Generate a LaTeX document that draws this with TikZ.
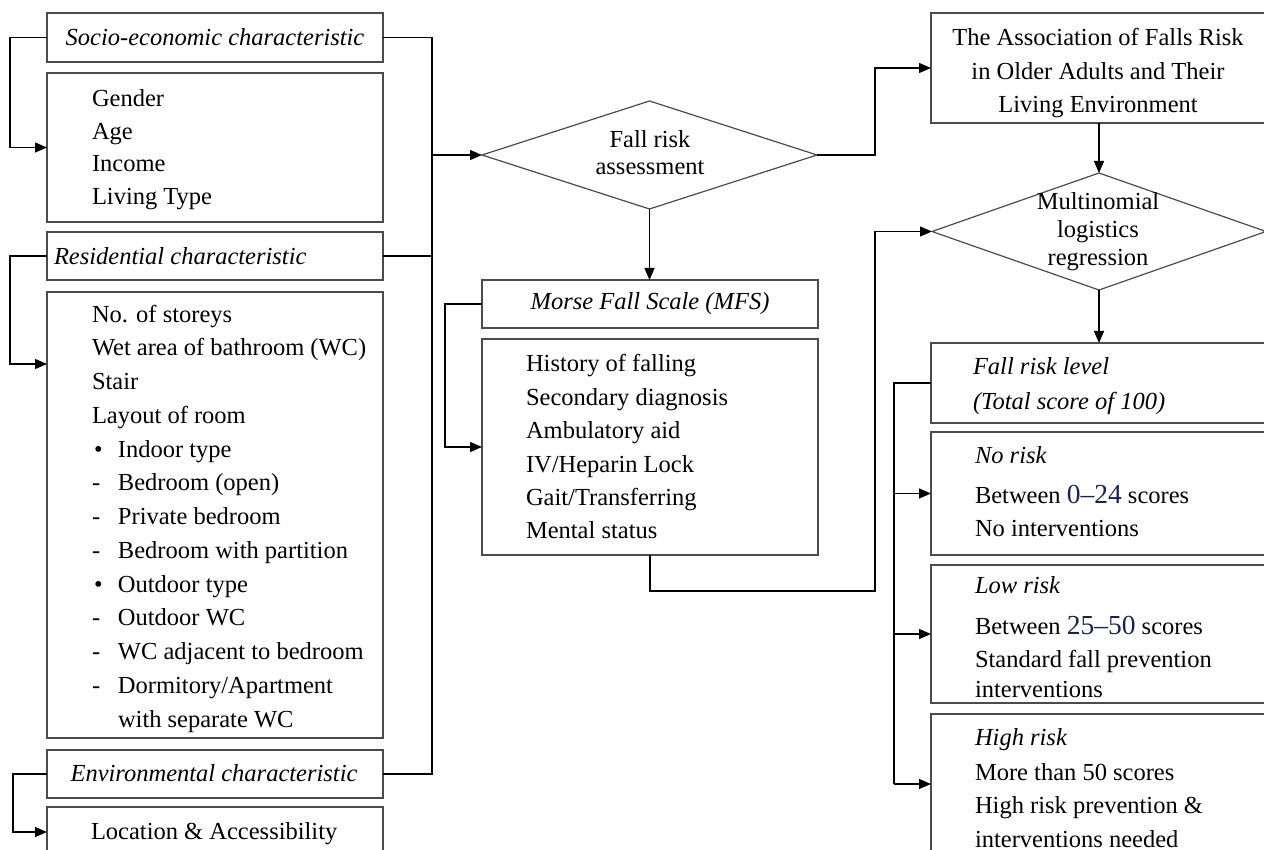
\documentclass[tikz,border=0pt]{standalone}
\usepackage{fontspec}
\setmainfont{Liberation Serif}
\usetikzlibrary{arrows.meta,shapes.geometric,calc}
\definecolor{numc}{RGB}{25,35,80}
\definecolor{boxc}{RGB}{75,75,75}
\newcommand\fsz[1]{\fontsize{24.5}{#1}\selectfont}
\newcommand\nm[1]{{\fontsize{27.5}{27.5}\selectfont\color{numc}#1}}
\newcommand\bl[1]{\makebox[26pt][l]{\hspace{2pt}\textbullet}#1}
\newcommand\ds[1]{\makebox[26pt][l]{-}#1}
\tikzset{
 box/.style={draw=boxc, line width=1.2pt, rectangle, anchor=north west, inner sep=0pt, outer sep=0pt},
 dia/.style={draw=boxc, line width=1.2pt, diamond, inner sep=0pt, outer sep=0pt},
 ln/.style={draw=black, line width=1.3pt},
 thk/.style={draw=black, line width=2pt},
 arr/.style={ln, -{Triangle[length=12pt,width=10pt]}},
 txt/.style={inner sep=0pt, outer sep=0pt, font=\fsz{33.5}},
 lst/.style={txt, anchor=north west, align=left},
}
\begin{document}
\begin{tikzpicture}[x=1pt,y=-1pt]
\useasboundingbox (0,0) rectangle (1264,850);
\clip (0,0) rectangle (1264,850);
% left column boxes
\node[box, minimum width=336pt, minimum height=49pt] (sh) at (47,13) {};
\node[box, minimum width=336pt, minimum height=149pt] (gb) at (47,73) {};
\node[box, minimum width=336pt, minimum height=48pt] (rh) at (47,232) {};
\node[box, minimum width=336pt, minimum height=446pt] (rl) at (47,292) {};
\node[box, minimum width=336pt, minimum height=48pt] (eh) at (47,750) {};
\node[box, minimum width=336pt, minimum height=60pt] (lb) at (47,807) {};
% middle
\node[dia, minimum width=335pt, minimum height=108pt] (d1) at (649.5,155) {};
\node[box, minimum width=336pt, minimum height=48pt] (mh) at (482,280) {};
\node[box, minimum width=336pt, minimum height=216pt] (mi) at (482,339) {};
% right
\node[box, minimum width=345pt, minimum height=110pt] (as) at (931,13) {};
\node[dia, minimum width=334pt, minimum height=117pt] (d2) at (1099,231.5) {};
\node[box, minimum width=345pt, minimum height=80pt] (fl) at (931,343) {};
\node[box, minimum width=345pt, minimum height=123pt] (nr) at (931,432) {};
\node[box, minimum width=345pt, minimum height=138pt] (lr) at (931,565) {};
\node[box, minimum width=345pt, minimum height=140pt] (hr) at (931,714) {};

% texts
\node[txt, anchor=base, font={\fsz{33.5}\itshape}] (sht) at (215,46) {Socio-economic characteristic};
\node[lst, font=\fsz{32.7}] (gbt) at (92,83.6) {\strut Gender\\Age\\Income\\Living Type};
\node[txt, anchor=base west, font={\fsz{33.5}\itshape}] (rht) at (54,265) {Residential characteristic};
\node[lst, font=\fsz{33.75}] (rlt) at (92,298.4) {\strut No. of storeys\\Wet area of bathroom (WC)\\Stair\\Layout of room\\\bl{Indoor type}\\\ds{Bedroom (open)}\\\ds{Private bedroom}\\\ds{Bedroom with partition}\\\bl{Outdoor type}\\\ds{Outdoor WC}\\\ds{WC adjacent to bedroom}\\\ds{Dormitory/Apartment}\\\hspace*{26pt}with separate WC};
\node[txt, anchor=base, font={\fsz{33.5}\itshape}] (eht) at (214,781) {Environmental characteristic};
\node[txt, anchor=base west] (lbt) at (91,839) {Location \& Accessibility};

\node[txt, anchor=north, align=center, font=\fsz{27}] (d1t) at (650,129.1) {\strut Fall risk\\assessment};
\node[txt, anchor=base, font={\fsz{33.5}\itshape}] (mht) at (650,310) {Morse Fall Scale (MFS)};
\node[lst, font=\fsz{33.4}] (mit) at (526,348.6) {\strut History of falling\\Secondary diagnosis\\Ambulatory aid\\IV/Heparin Lock\\Gait/Transferring\\Mental status};

\node[txt, anchor=north, align=center] (ast) at (1098,22.55) {\strut The Association of Falls Risk\\in Older Adults and Their\\Living Environment};
\node[txt, anchor=north, align=center, font=\fsz{28}] (d2t) at (1098,190.4) {\strut Multinomial\\logistics\\regression};
\node[lst, font={\fsz{35}\itshape}] (flt) at (973,349.5) {\strut Fall risk level\\(Total score of 100)};
\node[lst, font=\fsz{33}] (nrt) at (975,439.9) {\strut\textit{No risk}\\[7pt]Between \nm{0–24} scores\\No interventions};
\node[lst, font=\fsz{32}] (lrt) at (975,570.6) {\strut\textit{Low risk}\\[9pt]Between \nm{25–50} scores\\[1pt]Standard fall prevention\\[-2pt]interventions};
\node[lst, font=\fsz{34}] (hrt) at (975,721.2) {\strut\textit{High risk}\\[1pt]More than 50 scores\\[-1pt]High risk prevention \&\\interventions needed};

% connectors
\coordinate (bus) at (432,155);
\draw[ln] (sh.east) -- (sh.east -| bus) -- (eh.east -| bus) -- (eh.east);
\draw[thk] (rh.east) -- (rh.east -| bus);
\draw[arr] (bus) -- (d1.west);
\draw[arr] (sh.west) -- ++(-37,0) |- (gb.west);
\draw[arr] (rh.west) -- ++(-37,0) |- ($(rl.north west)+(0,72)$);
\draw[arr] (eh.west) -- ++(-34,0) |- ($(lb.north west)+(0,25)$);
\draw[arr] (d1.south) -- (d1.south |- mh.north);
\draw[arr] (mh.west) -- ++(-37,0) |- (mi.west);
\coordinate (k1) at (875,591);
\draw[arr] (mi.south) |- (k1) |- (d2.west);
\draw[arr] (d1.east) -- ++(58,0) |- (as.west);
\draw[arr] (d2.north |- as.south) -- (d2.north);
\draw[arr] (d2.south) -- (d2.south |- fl.north);
\draw[thk] (fl.west) -- ++(-37,0) coordinate (fb) -- (fb |- hr.west);
\draw[arr] (fb |- nr.west) -- (nr.west);
\draw[arr] (fb |- lr.west) -- (lr.west);
\draw[arr] (fb |- hr.west) -- (hr.west);
\end{tikzpicture}
\end{document}
